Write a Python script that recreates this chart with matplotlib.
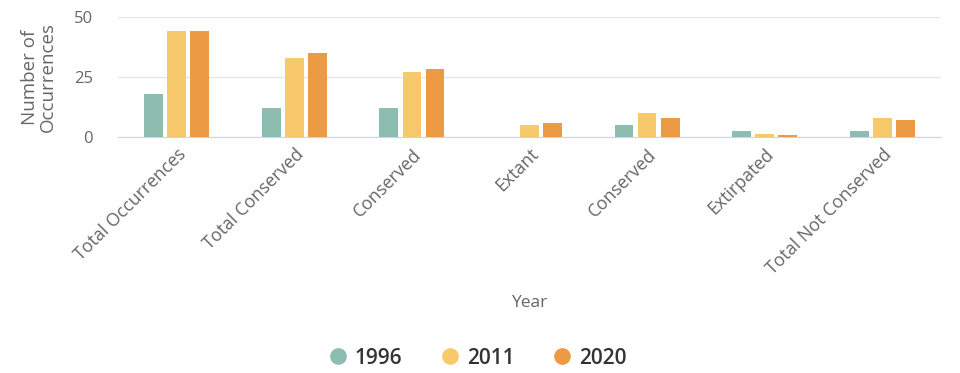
import matplotlib
matplotlib.use("Agg")
import matplotlib.pyplot as plt
import numpy as np
from matplotlib.lines import Line2D

plt.rcParams['font.family'] = ['Open Sans', 'DejaVu Sans']

categories = ["Total Occurrences", "Total Conserved", "Conserved", "Extant",
              "Conserved", "Extirpated", "Total Not Conserved"]
years = ["1996", "2011", "2020"]
v1996 = [18, 12, 12, 0, 5, 2.5, 2.5]
v2011 = [44, 33, 27, 5, 10, 1.2, 8]
v2020 = [44, 35, 28.5, 6, 8, 0.7, 7]
series = [v1996, v2011, v2020]
colors = ["#8dbcb0", "#f8c96c", "#ec9a44"]
yticks = [0, 25, 50]

fig = plt.figure(figsize=(9.6, 3.73), dpi=100)
ax = fig.add_axes([118/960, 1-137/373, (941-118)/960, 120/373])

x = np.arange(len(categories))
width = 0.16
pitch = 0.196
for i, (vals, c) in enumerate(zip(series, colors)):
    ax.bar(x + (i-1)*pitch, vals, width, color=c, zorder=3)

ax.set_xlim(-0.5, len(categories)-0.5)
ax.set_ylim(0, 50)
ax.set_yticks(yticks)
ax.yaxis.grid(True, color="#e6e6e6", linewidth=1, zorder=0)
for s in ["top", "right", "left"]:
    ax.spines[s].set_visible(False)
ax.spines["bottom"].set_color("#ccd6eb")
ax.tick_params(axis="y", length=0, pad=18, labelsize=12, labelcolor="#666666")
ax.tick_params(axis="x", length=0, pad=6)
ax.set_xticks(x)
ax.set_xticklabels(categories, rotation=45, ha="right", rotation_mode="anchor",
                   fontsize=12.8, color="#666666")
ax.set_ylabel("Number of\nOccurrences", fontsize=13.5, color="#666666", labelpad=12,
              linespacing=1.05)
fig.text((118+941)/2/960, 1-303/373, "Year", ha="center", va="center",
         fontsize=12.5, color="#666666")

handles = [Line2D([0], [0], marker='o', linestyle='', markersize=11,
                  markerfacecolor=c, markeredgecolor=c) for c in colors]
fig.legend(handles, years, loc="center", bbox_to_anchor=(0.498, 1-358/373), ncol=3,
           frameon=False, handlelength=0.8, handletextpad=0.4, columnspacing=1.9,
           prop={'size': 15, 'weight': 'semibold'}, labelcolor="#333333")

fig.savefig("out.png", dpi=100)
